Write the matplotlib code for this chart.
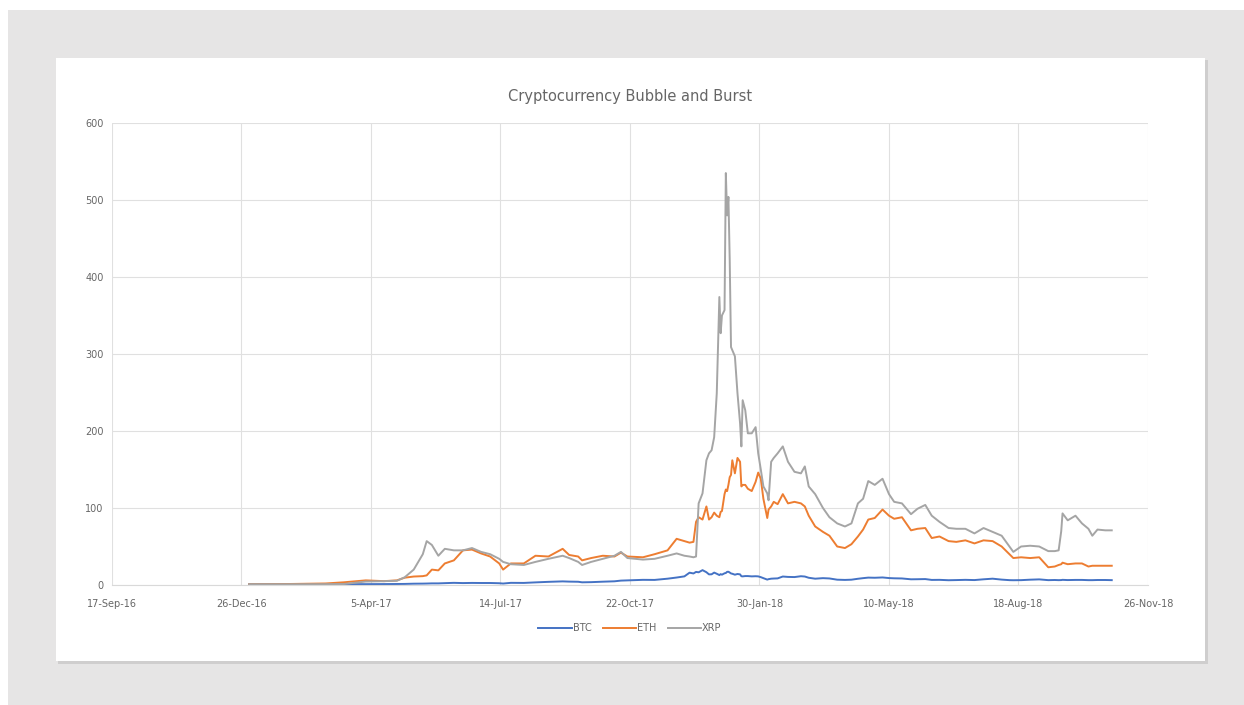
import numpy as np
import pandas as pd
import matplotlib
matplotlib.use("Agg")
import matplotlib.pyplot as plt
import matplotlib.dates as mdates
from matplotlib.patches import Rectangle

# sample dates
dates = [
    "2017-01-01", "2017-02-01", "2017-03-01", "2017-03-15", "2017-04-01", "2017-04-15",
    "2017-04-25", "2017-05-01", "2017-05-08", "2017-05-15", "2017-05-18", "2017-05-22",
    "2017-05-27", "2017-06-01", "2017-06-08", "2017-06-15", "2017-06-22", "2017-06-29",
    "2017-07-06", "2017-07-13", "2017-07-16", "2017-07-22", "2017-08-01", "2017-08-10",
    "2017-08-20", "2017-08-31", "2017-09-05", "2017-09-12", "2017-09-15", "2017-09-22",
    "2017-10-01", "2017-10-10", "2017-10-15", "2017-10-20", "2017-11-01", "2017-11-10",
    "2017-11-20", "2017-11-27", "2017-12-03", "2017-12-07", "2017-12-10", "2017-12-12",
    "2017-12-14", "2017-12-17", "2017-12-20", "2017-12-22", "2017-12-24", "2017-12-26",
    "2017-12-28", "2017-12-30", "2017-12-31", "2018-01-01", "2018-01-03", "2018-01-04",
    "2018-01-05", "2018-01-06", "2018-01-07", "2018-01-08", "2018-01-09", "2018-01-11",
    "2018-01-13", "2018-01-15", "2018-01-16", "2018-01-17", "2018-01-19", "2018-01-21",
    "2018-01-24", "2018-01-27", "2018-01-29", "2018-01-31", "2018-02-02", "2018-02-05",
    "2018-02-06", "2018-02-08", "2018-02-10", "2018-02-13", "2018-02-17", "2018-02-21",
    "2018-02-26", "2018-03-03", "2018-03-06", "2018-03-09", "2018-03-14", "2018-03-20",
    "2018-03-25", "2018-03-31", "2018-04-06", "2018-04-11", "2018-04-16", "2018-04-20",
    "2018-04-24", "2018-04-29", "2018-05-05", "2018-05-10", "2018-05-14", "2018-05-20",
    "2018-05-27", "2018-06-01", "2018-06-07", "2018-06-12", "2018-06-18", "2018-06-25",
    "2018-07-01", "2018-07-08", "2018-07-15", "2018-07-22", "2018-07-29", "2018-08-05",
    "2018-08-11", "2018-08-14", "2018-08-20", "2018-08-27", "2018-09-03", "2018-09-10",
    "2018-09-15", "2018-09-18", "2018-09-20", "2018-09-21", "2018-09-25", "2018-10-01",
    "2018-10-06", "2018-10-11", "2018-10-14", "2018-10-18", "2018-10-24", "2018-10-29",
]

btc = [
    1.0, 1.0, 1.2, 1.2, 1.1, 1.2, 1.3, 1.4, 1.7, 1.8, 1.9, 2.1,
    2.1, 2.4, 2.8, 2.5, 2.7, 2.6, 2.6, 2.3, 1.9, 2.8, 2.7, 3.4,
    4.1, 4.7, 4.4, 4.2, 3.5, 3.7, 4.3, 4.8, 5.7, 6.0, 6.7, 6.6,
    8.2, 9.7, 11.2, 16.0, 15.0, 17.0, 16.5, 19.3, 16.6, 13.8, 13.9, 16.1,
    14.6, 12.9, 14.1, 13.4, 15.2, 15.6, 17.1, 17.2, 16.2, 15.0, 14.6, 13.4,
    14.3, 13.8, 11.4, 11.2, 11.6, 11.6, 11.2, 11.4, 11.2, 10.2, 8.9, 7.0,
    7.6, 8.2, 8.4, 8.6, 11.0, 10.5, 10.3, 11.4, 11.0, 9.4, 8.2, 8.9,
    8.5, 6.9, 6.6, 6.9, 8.1, 8.9, 9.6, 9.4, 9.8, 9.0, 8.7, 8.5,
    7.4, 7.5, 7.7, 6.6, 6.7, 6.2, 6.4, 6.7, 6.4, 7.4, 8.2, 7.0,
    6.3, 6.2, 6.3, 6.9, 7.3, 6.3, 6.5, 6.3, 6.4, 6.7, 6.4, 6.6,
    6.6, 6.3, 6.3, 6.5, 6.5, 6.3,
]

eth = [
    1.0, 1.3, 2.0, 3.5, 6.0, 5.0, 6.0, 9.5, 11, 11.5, 12.5, 20,
    19, 28, 32, 45, 46, 41, 37, 28, 20, 28, 28, 38,
    37, 47, 39, 37, 32, 35, 38, 37, 42, 37, 36, 40,
    45, 60, 57, 55, 56, 82, 88, 85, 102, 85, 88, 94,
    90, 88, 95, 96, 118, 124, 122, 130, 140, 143, 162, 145,
    165, 160, 128, 130, 130, 125, 122, 134, 146, 138, 112, 87,
    98, 102, 108, 105, 118, 106, 108, 106, 102, 90, 76, 69,
    64, 50, 48, 53, 63, 72, 85, 87, 98, 90, 86, 88,
    71, 73, 74, 61, 63, 57, 56, 58, 54, 58, 57, 50,
    40, 35, 36, 35, 36, 23, 24, 26, 27, 29, 27, 28,
    28, 24, 25, 25, 25, 25,
]

xrp = [
    1.0, 1.0, 1.1, 1.3, 4.5, 5.0, 5.5, 10, 20, 40, 57, 52,
    38, 47, 45, 45, 48, 43, 40, 34, 30, 27, 26, 30,
    34, 38, 35, 30, 26, 30, 34, 38, 43, 35, 33, 34,
    38, 41, 38, 37, 36, 37, 106, 119, 162, 171, 175, 192,
    249, 374, 327, 350, 357, 535, 480, 504, 422, 309, 305, 297,
    249, 210, 180, 240, 227, 197, 197, 205, 171, 150, 128, 119,
    110, 160, 165, 171, 180, 160, 147, 145, 154, 128, 118, 100,
    88, 80, 76, 80, 106, 112, 135, 130, 138, 118, 108, 106,
    92, 99, 104, 90, 82, 74, 73, 73, 67, 74, 69, 64,
    50, 43, 50, 51, 50, 44, 44, 45, 70, 93, 84, 90,
    80, 73, 64, 72, 71, 71,
]

series_names = ["BTC", "ETH", "XRP"]
series_colors = ["#4472C4", "#ED7D31", "#A5A5A5"]

df = pd.DataFrame({"BTC": btc, "ETH": eth, "XRP": xrp}, index=pd.to_datetime(dates))

W, H = 1244, 705
fig = plt.figure(figsize=(W / 100, H / 100), dpi=100, facecolor="white")

# grey backdrop and white card with a soft shadow
def px_rect(x0, y0, x1, y1, **kw):
    return Rectangle((x0 / W, 1 - y1 / H), (x1 - x0) / W, (y1 - y0) / H,
                     transform=fig.transFigure, **kw)

fig.patches.append(px_rect(8, 10, W, H, facecolor="#e6e5e5", edgecolor="none", zorder=0))
fig.patches.append(px_rect(58, 60, 1208, 664, facecolor="#cfcece", edgecolor="none", zorder=1))
fig.patches.append(px_rect(56, 58, 1205, 661, facecolor="white", edgecolor="none", zorder=2))

ax = fig.add_axes([112 / W, 1 - 585 / H, (1148 - 112) / W, (585 - 123) / H])
ax.set_facecolor("none")
ax.set_zorder(3)

for name, color in zip(series_names, series_colors):
    ax.plot(df.index, df[name], color=color, lw=1.4, label=name, solid_joinstyle="round")

start = pd.Timestamp("2016-09-17")
ticks = [start + pd.Timedelta(days=100 * i) for i in range(9)]
ax.set_xlim(mdates.date2num(ticks[0]), mdates.date2num(ticks[-1]))
ax.set_xticks([mdates.date2num(t) for t in ticks])
ax.set_xticklabels([f"{t.day}-{t.strftime('%b-%y')}" for t in ticks])
ax.set_ylim(0, 600)
ax.set_yticks(range(0, 601, 100))

ax.grid(True, color="#e0e0e0", lw=0.8)
ax.set_axisbelow(True)
for s in ["top", "right", "left"]:
    ax.spines[s].set_visible(False)
ax.spines["bottom"].set_color("#d9d9d9")
ax.tick_params(length=0, labelsize=7, colors="#666666", pad=10)
ax.tick_params(axis="y", pad=6)

fig.text(630 / W, 1 - 97 / H, "Cryptocurrency Bubble and Burst", ha="center", va="center",
         fontsize=10.5, color="#666666", zorder=4)

leg = ax.legend(loc="center", bbox_to_anchor=(630 / W, 1 - 628 / H), bbox_transform=fig.transFigure,
                ncol=3, frameon=False, fontsize=7, handlelength=3.4, handletextpad=0.1,
                columnspacing=1.2)
for t in leg.get_texts():
    t.set_color("#666666")

fig.savefig("out.png", dpi=100, facecolor="white")
